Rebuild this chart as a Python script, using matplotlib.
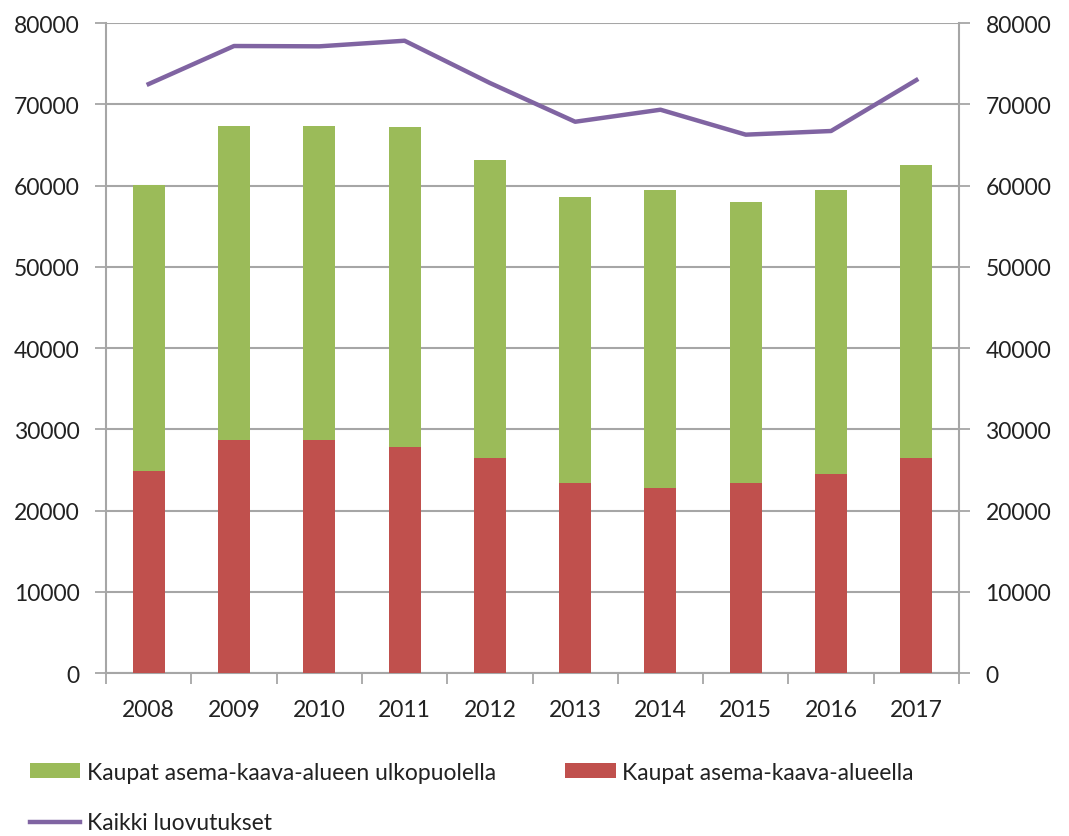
import matplotlib.pyplot as plt
import numpy as np

# Data
years = ['2008', '2009', '2010', '2011', '2012', '2013', '2014', '2015', '2016', '2017']
inside = [24820, 28640, 28640, 27860, 26420, 23390, 22730, 23390, 24490, 26420]
outside = [35240, 38680, 38680, 39340, 36760, 35240, 36720, 34620, 34960, 36140]
total = [72490, 77170, 77130, 77820, 72620, 67850, 69330, 66260, 66710, 72980]

green = '#9BBB59'
red = '#C0504D'
purple = '#8064A2'
grid_col = '#A6A6A6'

plt.rcParams['font.family'] = ['Lato', 'DejaVu Sans']

fig = plt.figure(figsize=(10.69, 8.37), dpi=100)
ax = fig.add_axes([0.0992, 0.1947, 0.7979, 0.7766])

x = np.arange(len(years))
ax.bar(x, inside, width=0.375, color=red, label='Kaupat asema-kaava-alueella', zorder=3)
ax.bar(x, outside, width=0.375, bottom=inside, color=green,
       label='Kaupat asema-kaava-alueen ulkopuolella', zorder=3)

ax2 = ax.twinx()
ax2.plot(x, total, color=purple, lw=3.2, label='Kaikki luovutukset', zorder=4)

for a in (ax, ax2):
    a.set_ylim(0, 80000)
    a.set_yticks(range(0, 80001, 10000))
    a.set_xlim(-0.5, len(years) - 0.5)
    for s in a.spines.values():
        s.set_visible(False)
    a.tick_params(axis='y', length=8, width=1.3, color=grid_col, labelsize=16.5,
                  labelcolor='#222222', pad=11)

ax.yaxis.grid(True, color=grid_col, lw=1.5, zorder=0)
ax.set_axisbelow(True)
ax.spines['left'].set_visible(True)
ax.spines['bottom'].set_visible(True)
ax2.spines['right'].set_visible(True)
for s in (ax.spines['left'], ax.spines['bottom'], ax2.spines['right']):
    s.set_color(grid_col)
    s.set_linewidth(1.5)

ax.set_xticks(x)
ax.set_xticklabels(years, fontsize=16.5, color='#222222')
ax.set_xticks(np.arange(-0.5, len(years)), minor=True)
ax.tick_params(axis='x', which='major', length=0, pad=19)
ax.tick_params(axis='x', which='minor', length=8, width=1.3, color=grid_col)

h1, l1 = ax.get_legend_handles_labels()
h2, l2 = ax2.get_legend_handles_labels()
handles = [h1[1], h2[0], h1[0]]
labels = [l1[1], l2[0], l1[0]]
leg = fig.legend(handles, labels, loc='upper left', bbox_to_anchor=(0.028, 0.089),
                 ncol=2, frameon=False, fontsize=16.5, handlelength=2.2, handleheight=0.6,
                 handletextpad=0.3, columnspacing=3.0, labelspacing=1.3,
                 borderaxespad=0, borderpad=0)
for t in leg.get_texts():
    t.set_color('#222222')

plt.savefig('out.png', dpi=100)
